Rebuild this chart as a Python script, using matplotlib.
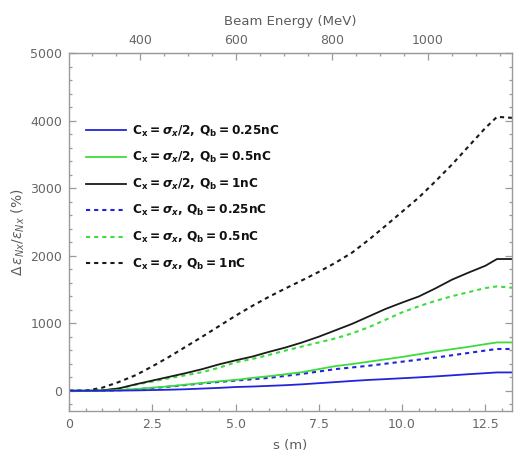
import matplotlib
matplotlib.use("Agg")
import matplotlib.pyplot as plt
from matplotlib.ticker import MultipleLocator, FixedLocator

# Position along the linac (m)
s_m = [0, 0.5, 1, 1.5, 2, 2.5, 3, 3.5, 4, 4.5, 5, 5.5, 6, 6.5, 7, 7.5,
       8, 8.5, 9, 9.5, 10, 10.5, 11, 11.5, 12, 12.5, 12.85, 13.3]

# Relative normalized emittance growth (%)
half_q025 = [0, 0, 0, 2, 5, 10, 15, 22, 32, 42, 55, 62, 72, 82, 95, 112,
             128, 145, 160, 172, 185, 198, 212, 228, 245, 260, 271, 271]
half_q05 = [0, 0, 0, 10, 25, 45, 65, 90, 115, 140, 160, 190, 215, 245, 275, 320,
            365, 395, 430, 465, 500, 540, 580, 615, 650, 690, 715, 715]
half_q1 = [0, 0, 5, 35, 95, 150, 205, 260, 320, 390, 450, 505, 575, 640, 715, 800,
           895, 990, 1100, 1210, 1305, 1395, 1515, 1645, 1750, 1850, 1950, 1950]
full_q025 = [0, 0, 0, 8, 20, 40, 60, 85, 108, 130, 150, 170, 190, 220, 250, 285,
             320, 345, 370, 400, 430, 460, 490, 525, 560, 595, 618, 618]
full_q05 = [0, 0, 5, 30, 90, 135, 185, 230, 275, 340, 420, 470, 530, 595, 655, 715,
            775, 850, 940, 1050, 1160, 1250, 1330, 1400, 1460, 1520, 1545, 1525]
full_q1 = [0, 0, 45, 130, 230, 360, 500, 650, 800, 955, 1110, 1255, 1390, 1515, 1635, 1760,
           1895, 2045, 2235, 2440, 2650, 2860, 3100, 3350, 3620, 3890, 4055, 4040]

labels = [
    r"$\mathrm{C_x{=}}\sigma_x\mathrm{/2,\,Q_b{=}0.25nC}$",
    r"$\mathrm{C_x{=}}\sigma_x\mathrm{/2,\,Q_b{=}0.5nC}$",
    r"$\mathrm{C_x{=}}\sigma_x\mathrm{/2,\,Q_b{=}1nC}$",
    r"$\mathrm{C_x{=}}\sigma_x\mathrm{,\,Q_b{=}0.25nC}$",
    r"$\mathrm{C_x{=}}\sigma_x\mathrm{,\,Q_b{=}0.5nC}$",
    r"$\mathrm{C_x{=}}\sigma_x\mathrm{,\,Q_b{=}1nC}$",
]

# Beam energy along the linac (MeV): E = e0 + slope * s
e0, slope = 252.0, 69.4
energy_ticks = [400, 600, 800, 1000]

BLUE, GREEN, BLACK = "#2323dc", "#3ddc3d", "#1a1a1a"
FRAME, TICKTXT = "#9a9a9a", "#666666"

plt.rcParams["font.family"] = ["DejaVu Sans"]
plt.rcParams["mathtext.fontset"] = "custom"
plt.rcParams["mathtext.rm"] = "DejaVu Sans:bold"
plt.rcParams["mathtext.it"] = "DejaVu Sans:bold:italic"
plt.rcParams["mathtext.bf"] = "DejaVu Sans:bold"

fig = plt.figure(figsize=(5.14, 4.54), dpi=100)
ax = fig.add_axes([69 / 514, 1 - 411 / 454, 443 / 514, 358 / 454])

dash = (2.0, 1.9)
l4, = ax.plot(s_m, full_q025, color=BLUE, lw=1.5, dashes=dash, label=labels[3])
l5, = ax.plot(s_m, full_q05, color=GREEN, lw=1.5, dashes=dash, label=labels[4])
l6, = ax.plot(s_m, full_q1, color=BLACK, lw=1.5, dashes=dash, label=labels[5])
l3, = ax.plot(s_m, half_q1, color=BLACK, lw=1.3, label=labels[2])
l2, = ax.plot(s_m, half_q05, color=GREEN, lw=1.3, label=labels[1])
l1, = ax.plot(s_m, half_q025, color=BLUE, lw=1.3, label=labels[0])

ax.set_xlim(0, 13.3)
ax.set_ylim(-300, 5000)

ax.xaxis.set_major_locator(FixedLocator([0, 2.5, 5.0, 7.5, 10.0, 12.5]))
ax.xaxis.set_minor_locator(MultipleLocator(0.5))
ax.set_xticklabels(["0", "2.5", "5.0", "7.5", "10.0", "12.5"])
ax.yaxis.set_major_locator(MultipleLocator(1000))
ax.yaxis.set_minor_locator(MultipleLocator(200))

for sp in ax.spines.values():
    sp.set_color(FRAME)
    sp.set_linewidth(1.0)

ax.tick_params(which="both", direction="in", top=False, right=True,
               color=FRAME, labelcolor=TICKTXT, labelsize=9, width=0.9)
ax.tick_params(which="major", length=5, pad=5)
ax.tick_params(which="minor", length=2.5)

sec = ax.secondary_xaxis("top", functions=(lambda s: e0 + slope * s,
                                           lambda e: (e - e0) / slope))
sec.xaxis.set_major_locator(FixedLocator(energy_ticks))
sec.xaxis.set_minor_locator(MultipleLocator(50))
sec.tick_params(which="both", direction="in", color=FRAME, labelcolor=TICKTXT,
                labelsize=9, width=0.9)
sec.tick_params(which="major", length=5, pad=4)
sec.tick_params(which="minor", length=2.5)
sec.spines["top"].set_color(FRAME)
sec.set_xlabel("Beam Energy (MeV)", color="#5c5c5c", fontsize=9.5, labelpad=7)

ax.set_xlabel("s (m)", color="#5c5c5c", fontsize=9.5, labelpad=6)
ax.set_ylabel(r"$\Delta\,\epsilon_{Nx}/\epsilon_{Nx}$ (%)", color="#5c5c5c",
              fontsize=10, math_fontfamily="dejavusans")
ax.yaxis.set_label_coords(-0.095, 0.5)

leg = ax.legend(handles=[l1, l2, l3, l4, l5, l6], loc="center left",
                bbox_to_anchor=(0.038, 0.596), frameon=False, fontsize=8.7,
                handlelength=3.3, handletextpad=0.55, labelspacing=0.95,
                borderpad=0, borderaxespad=0)
for t in leg.get_texts():
    t.set_color("#111111")

fig.savefig("out.png", dpi=100)
